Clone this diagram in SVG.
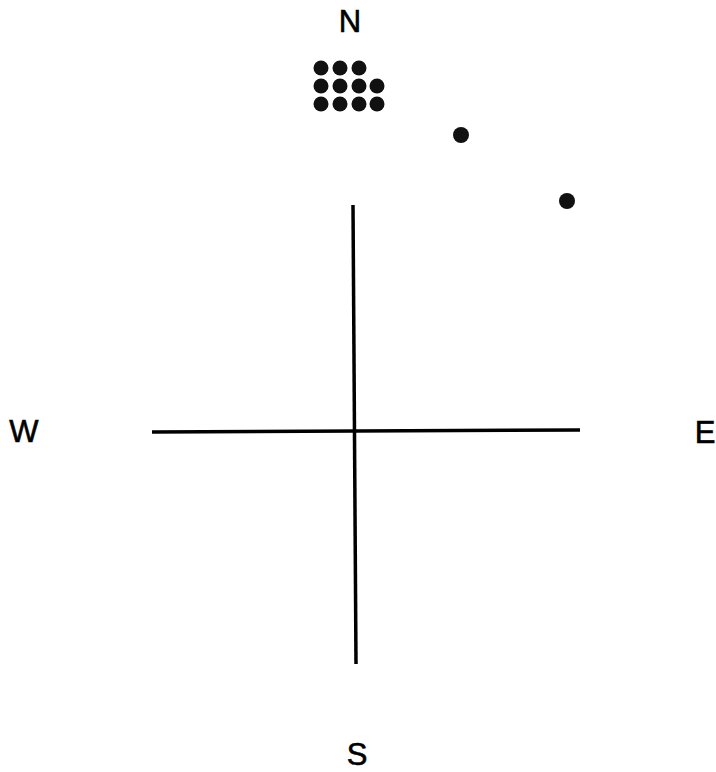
<svg xmlns="http://www.w3.org/2000/svg" width="716" height="772" viewBox="0 0 716 772">
<style>
.lbl{font-family:"Liberation Sans","DejaVu Sans",sans-serif;font-size:31px;fill:#000;stroke:#000;stroke-width:0.6;text-anchor:middle}
.dot{fill:#111}
.ax{stroke:#000;stroke-width:3.5;stroke-linecap:butt}
</style>
<rect width="716" height="772" fill="#fff"/>
<g id="axes">
<line class="ax" x1="353" y1="205" x2="356" y2="664"/>
<line class="ax" x1="152" y1="432" x2="580" y2="430" stroke-width="3"/>
</g>
<g id="labels">
<text class="lbl" x="350" y="32">N</text>
<text class="lbl" x="24" y="442">W</text>
<text class="lbl" x="705" y="443">E</text>
<text class="lbl" x="357" y="765">S</text>
</g>
<g id="cluster">
<circle class="dot" cx="321" cy="68" r="7.5"/>
<circle class="dot" cx="340" cy="68" r="7.5"/>
<circle class="dot" cx="359" cy="68" r="7.5"/>
<circle class="dot" cx="321" cy="86" r="7.5"/>
<circle class="dot" cx="340" cy="86" r="7.5"/>
<circle class="dot" cx="359" cy="86" r="7.5"/>
<circle class="dot" cx="377" cy="86" r="7.5"/>
<circle class="dot" cx="321" cy="104" r="7.5"/>
<circle class="dot" cx="340" cy="104" r="7.5"/>
<circle class="dot" cx="359" cy="104" r="7.5"/>
<circle class="dot" cx="377" cy="104" r="7.5"/>
</g>
<g id="dot1"><circle class="dot" cx="461" cy="135" r="8"/></g>
<g id="dot2"><circle class="dot" cx="567" cy="201" r="8"/></g>
</svg>
